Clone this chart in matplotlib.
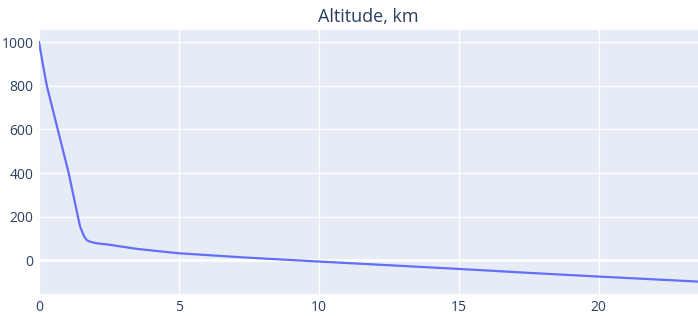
import numpy as np
import matplotlib.pyplot as plt

plt.rcParams['font.family'] = ['Open Sans', 'DejaVu Sans']

# time vs altitude
t = [0, 0.13, 0.28, 0.67, 1.06, 1.39, 1.47, 1.55, 1.62, 1.70, 1.80, 1.94, 2.10, 2.46,
     3.5, 4.98, 7.42, 9.98, 12.5, 15, 17.5, 20, 23.55]
alt = [1000, 905, 800, 600, 400, 200, 154, 128, 108, 93, 86, 81, 77, 72,
       52, 32, 12, -6, -23, -40, -58, -75, -98]
xticks = [0, 5, 10, 15, 20]
yticks = [0, 200, 400, 600, 800, 1000]

bg = '#E5ECF6'
txt = '#2a3f5f'

fig = plt.figure(figsize=(6.98, 3.16), dpi=100)
ax = fig.add_axes([39/698, 22/316, 659/698, 264/316])
ax.set_facecolor(bg)
ax.plot(t, alt, color='#636EFA', lw=1.6, zorder=3, solid_joinstyle='round')

ax.set_xlim(0, 23.55)
ax.set_ylim(-155, 1056)
ax.set_xticks(xticks)
ax.set_yticks(yticks)
ax.grid(color='white', lw=1.0, zorder=1)
ax.axhline(0, color='white', lw=1.8, zorder=2)
ax.set_axisbelow(True)
for s in ax.spines.values():
    s.set_visible(False)
ax.tick_params(length=0, labelsize=10, colors=txt, pad=4)
ax.set_title('Altitude, km', fontsize=13, color=txt, pad=6)

fig.savefig('out.png', dpi=100)
